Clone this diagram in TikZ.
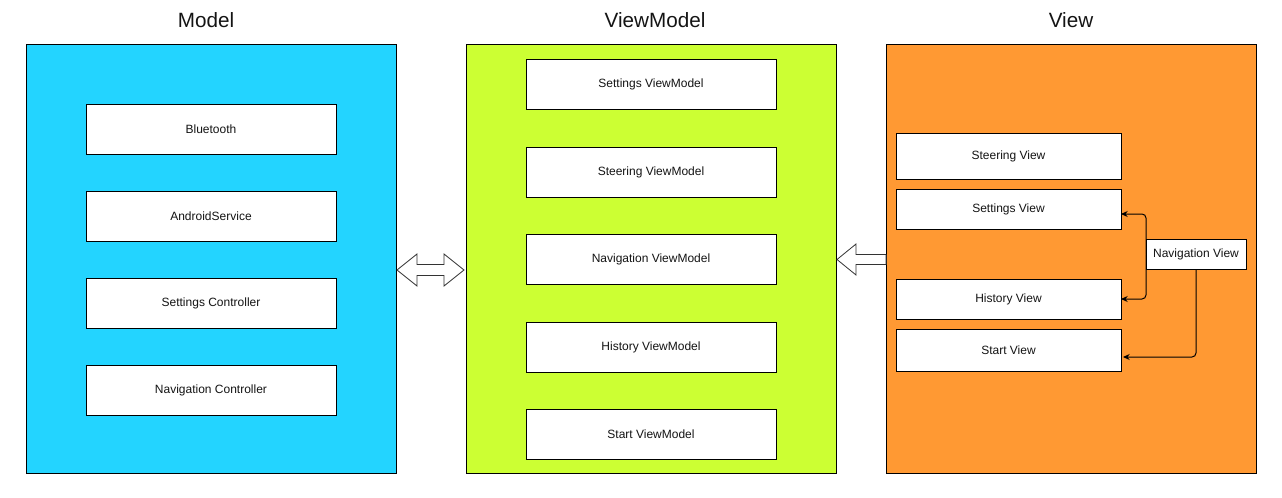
\documentclass[tikz,border=0pt]{standalone}
\usepackage{fontspec}
\setmainfont{Liberation Sans}
\usetikzlibrary{arrows.meta, positioning, calc}
\definecolor{modelblue}{RGB}{35, 212, 255}
\definecolor{vmgreen}{RGB}{204, 255, 51}
\definecolor{vieworange}{RGB}{255, 153, 51}
\definecolor{darktext}{RGB}{20, 20, 20}

\begin{document}
\begin{tikzpicture}[
        x=0.75pt, y=-0.75pt,
        every node/.style={font=\fontsize{9}{11}\selectfont, text=darktext},
        node distance=27.75pt,
        layer/.style={draw=black, line width=0.75pt, minimum width=277.5pt,
                      minimum height=321.75pt, inner sep=0pt, outer sep=0pt},
        title/.style={font=\fontsize{15.5}{18}\selectfont},
        box/.style={draw=black, fill=white, line width=0.75pt, outer sep=0pt,
                    minimum width=187.5pt, minimum height=37.5pt, inner sep=2pt},
        vbox/.style={draw=black, fill=white, line width=0.75pt, outer sep=0pt,
                     minimum width=168.75pt, minimum height=30pt, inner sep=2pt},
        arr/.style={-{Stealth[length=5pt, width=4.5pt]}, line width=0.75pt,
                    rounded corners=3pt},
        blockarr/.style={draw=black!80, fill=white, line width=0.6pt}
      ]
        \useasboundingbox (0,0) rectangle (1282,497);

        \node[layer, fill=modelblue]  (model) at (211,258.5) {};
        \node[layer, fill=vmgreen]    (vm)    at (651,258.5) {};
        \node[layer, fill=vieworange] (view)  at (1071,258.5) {};

        \node[title] (tmodel) at (206,20)  {Model};
        \node[title] (tvm)    at (655,20)  {ViewModel};
        \node[title] (tview)  at (1071,20) {View};

        \node[box] (bt)   at (211,129)  {Bluetooth};
        \node[box, below=of bt]   (serv) {AndroidService};
        \node[box, below=of serv] (setc) {Settings Controller};
        \node[box, below=of setc] (navc) {Navigation Controller};

        \node[box] (setvm)   at (651,84) {Settings ViewModel};
        \node[box, below=28.5pt of setvm]  (steervm) {Steering ViewModel};
        \node[box, below=28pt of steervm]  (navvm)   {Navigation ViewModel};
        \node[box, below=28.5pt of navvm]  (histvm)  {History ViewModel};
        \node[box, below=28pt of histvm]   (startvm) {Start ViewModel};

        \node[vbox, minimum height=34.5pt] (steerv) at (1008.5,156) {Steering View};
        \node[vbox, below=7.5pt of steerv]  (setv)   {Settings View};
        \node[vbox, below=37.5pt of setv]   (histv)  {History View};
        \node[vbox, minimum height=31.5pt, below=7.5pt of histv] (startv) {Start View};

        \node[draw=black, fill=white, line width=0.75pt, minimum width=75pt, outer sep=0pt,
              minimum height=22.5pt, inner sep=2pt] (navv) at (1196,254.3) {Navigation View};

        \draw[arr] (navv.west) |- ([yshift=-3.75pt]setv.east);
        \draw[arr] (navv.west) |- (histv.east);
        \draw[arr] (navv.south) |- ([yshift=-5.25pt, xshift=1.5pt]startv.east);

        \draw[blockarr] (397,270) -- (417,254) -- (417,264.5) -- (444,264.5)
          -- (444,254) -- (464,270) -- (444,286) -- (444,275.5)
          -- (417,275.5) -- (417,286) -- cycle;
        \draw[blockarr] (837,259.5) -- (856,244) -- (856,254.5) -- (886,254.5)
          -- (886,264.5) -- (856,264.5) -- (856,275) -- cycle;
      \end{tikzpicture}
\end{document}
